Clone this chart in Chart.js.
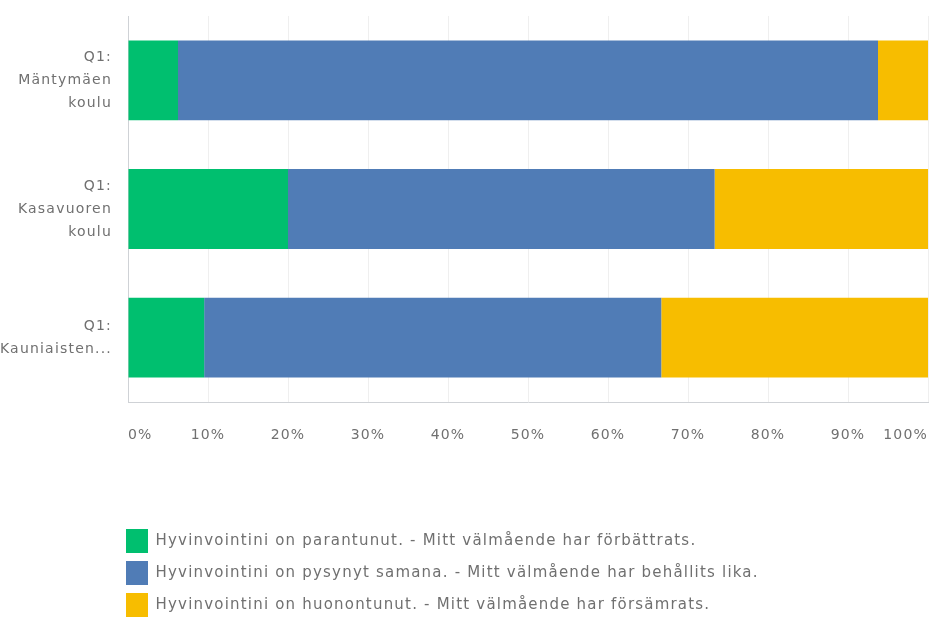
<!DOCTYPE html>
<html>
<head>
<meta charset="utf-8">
<script src="https://cdn.jsdelivr.net/npm/chart.js@4"></script>
<style>
  html, body { margin: 0; padding: 0; background: #fff; }
  #wrap { width: 930px; height: 619px; }
</style>
</head>
<body>
<div id="wrap"><canvas id="chart"></canvas></div>
<script>
let categories = [['Q1:', 'Mäntymäen', 'koulu'], ['Q1:', 'Kasavuoren', 'koulu'], ['Q1:', 'Kauniaisten...']];
let seriesNames = [
    'Hyvinvointini on parantunut. - Mitt välmående har förbättrats.',
    'Hyvinvointini on pysynyt samana. - Mitt välmående har behållits lika.',
    'Hyvinvointini on huonontunut. - Mitt välmående har försämrats.'
];
let improved = [6.25, 20.0, 9.52];
let same = [87.5, 53.33, 57.14];
let worse = [6.25, 26.67, 33.34];
let tickValues = [0, 10, 20, 30, 40, 50, 60, 70, 80, 90, 100];
let colors = ['#00bf6f', '#507cb6', '#f7bd00'];

let textColor = '#707070';
let fontFamily = '"DejaVu Sans", sans-serif';

// the original font is spaced out a bit, canvas can do that too
function spaceLetters(chart) {
    chart.ctx.letterSpacing = '1.2px';
}

let tweaks = {
    id: 'tweaks',
    beforeUpdate: spaceLetters,
    beforeDraw: spaceLetters,
    afterLayout(chart) {
        // line the legend boxes up under the y axis and push them down a little
        chart.legend.left = chart.chartArea.left - 10;
        chart.legend.top += 8;
    }
};

window.onload = function() {
  new Chart(document.getElementById('chart'), {
    type: 'bar',
    data: {
        labels: categories,
        datasets: [
            { label: seriesNames[0], data: improved, backgroundColor: colors[0] },
            { label: seriesNames[1], data: same, backgroundColor: colors[1] },
            { label: seriesNames[2], data: worse, backgroundColor: colors[2] }
        ]
    },
    options: {
        indexAxis: 'y',
        responsive: true,
        maintainAspectRatio: false,
        animation: false,
        layout: { padding: { top: 16, right: 2, left: 0, bottom: 0 } },
        datasets: {
            bar: { barPercentage: 0.62, categoryPercentage: 1, borderWidth: 0 }
        },
        scales: {
            x: {
                stacked: true,
                min: 0,
                max: 100,
                afterBuildTicks: function(scale) {
                    scale.ticks = tickValues.map(v => ({ value: v }));
                },
                afterFit: function(scale) {
                    scale.height = 619 - 402 - scale.chart.legend.height;
                    scale.paddingLeft = 0;
                    scale.paddingRight = 0;
                },
                grid: { color: '#efefef', drawTicks: false },
                border: { color: '#cfd2d6' },
                ticks: {
                    align: 'inner',
                    padding: 25,
                    color: textColor,
                    font: { family: fontFamily, size: 14 },
                    callback: v => v + '%'
                }
            },
            y: {
                stacked: true,
                afterFit: function(scale) {
                    scale.width = 128;
                    scale.paddingTop = 0;
                    scale.paddingBottom = 0;
                },
                grid: { display: false, drawTicks: false },
                border: { display: true, color: '#cfd2d6' },
                ticks: {
                    padding: 16,
                    color: textColor,
                    font: { family: fontFamily, size: 14, lineHeight: 1.65 }
                }
            }
        },
        plugins: {
            legend: {
                position: 'bottom',
                align: 'start',
                labels: {
                    boxWidth: 22,
                    boxHeight: 24,
                    padding: 8,
                    color: textColor,
                    font: { family: fontFamily, size: 15 }
                }
            },
            tooltip: { enabled: false }
        }
    },
    plugins: [tweaks]
  });
};
</script>
</body>
</html>
